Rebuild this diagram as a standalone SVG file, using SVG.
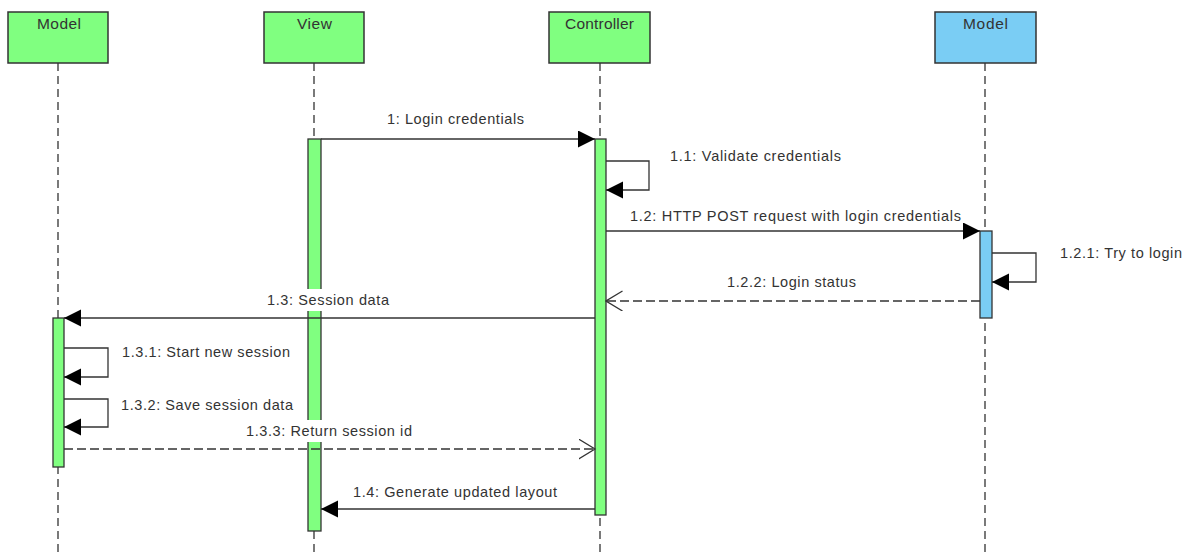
<svg xmlns="http://www.w3.org/2000/svg" width="1192" height="553" viewBox="0 0 1192 553">
<style>
.box{stroke:#333;stroke-width:1.5}
.g{fill:#80ff80}
.b{fill:#7acdf4}
.life{stroke:#333;stroke-width:1.3;stroke-dasharray:8 5;fill:none}
.act{stroke:#333;stroke-width:1.3}
.msg{stroke:#333;stroke-width:1.3;fill:none}
.ret{stroke:#333;stroke-width:1.4;fill:none;stroke-dasharray:9 4}
text{font-family:"Liberation Sans",Arial,sans-serif;font-size:14.5px;fill:#333}
.hd{font-size:15.5px}
.bg{fill:#fff}
</style>
<defs>
<marker id="fa" markerUnits="userSpaceOnUse" markerWidth="18" markerHeight="18" refX="17" refY="8.5" orient="auto" viewBox="0 0 18 18">
<path d="M0,0 L17,8.5 L0,17 z" fill="#000"/>
</marker>
<marker id="oa" markerUnits="userSpaceOnUse" markerWidth="18" markerHeight="22" refX="16.5" refY="10" orient="auto" viewBox="0 0 18 22">
<path d="M0,0 L16.5,10 L0,20" fill="none" stroke="#333" stroke-width="1.3"/>
</marker>
</defs>
<g id="lifelines">
<line class="life" x1="58" y1="63" x2="58" y2="553"/>
<line class="life" x1="314" y1="63" x2="314" y2="553"/>
<line class="life" x1="600" y1="63" x2="600" y2="553"/>
<line class="life" x1="985" y1="63" x2="985" y2="553"/>
</g>
<g id="model1">
<rect class="box g" x="8" y="12" width="100" height="51"/>
<text class="hd" x="37" y="29" textLength="44" lengthAdjust="spacing">Model</text>
</g>
<g id="view">
<rect class="box g" x="264" y="12" width="100" height="51"/>
<text class="hd" x="297" y="29" textLength="35" lengthAdjust="spacing">View</text>
</g>
<g id="controller">
<rect class="box g" x="549" y="12" width="101" height="51"/>
<text class="hd" x="565" y="29" textLength="69" lengthAdjust="spacing">Controller</text>
</g>
<g id="model2">
<rect class="box b" x="935" y="12" width="101" height="51"/>
<text class="hd" x="963" y="29" textLength="45" lengthAdjust="spacing">Model</text>
</g>
<g id="activations">
<rect id="act-view" class="act g" x="308" y="139" width="13" height="392"/>
<rect id="act-controller" class="act g" x="595" y="139" width="11" height="376"/>
<rect id="act-model2" class="act b" x="980" y="231" width="12" height="87"/>
<rect id="act-model1" class="act g" x="53" y="318" width="11" height="149"/>
</g>
<g id="connectors">
<line class="msg" x1="321" y1="139" x2="595" y2="139" marker-end="url(#fa)"/>
<polyline class="msg" points="606,161 649,161 649,190 606,190" marker-end="url(#fa)"/>
<line class="msg" x1="606" y1="231" x2="980" y2="231" marker-end="url(#fa)"/>
<polyline class="msg" points="992,253 1036,253 1036,282 992,282" marker-end="url(#fa)"/>
<line class="ret" x1="980" y1="301" x2="606" y2="301" marker-end="url(#oa)"/>
<line class="msg" x1="595" y1="318" x2="64" y2="318" marker-end="url(#fa)"/>
<polyline class="msg" points="64,348 108,348 108,377 64,377" marker-end="url(#fa)"/>
<polyline class="msg" points="64,399 108,399 108,427 64,427" marker-end="url(#fa)"/>
<line class="ret" x1="64" y1="449" x2="595" y2="449" marker-end="url(#oa)"/>
<line class="msg" x1="595" y1="509" x2="321" y2="509" marker-end="url(#fa)"/>
</g>
<g id="labels">
<text x="387" y="124" textLength="137" lengthAdjust="spacing">1: Login credentials</text>
<text x="670" y="161" textLength="171" lengthAdjust="spacing">1.1: Validate credentials</text>
<text x="630" y="221" textLength="331" lengthAdjust="spacing">1.2: HTTP POST request with login credentials</text>
<text x="1060" y="258" textLength="122" lengthAdjust="spacing">1.2.1: Try to login</text>
<text x="727" y="287" textLength="129" lengthAdjust="spacing">1.2.2: Login status</text>
<rect class="bg" x="264" y="289" width="127" height="22"/>
<text x="267" y="305" textLength="122" lengthAdjust="spacing">1.3: Session data</text>
<text x="122" y="357" textLength="168" lengthAdjust="spacing">1.3.1: Start new session</text>
<text x="121" y="410" textLength="172" lengthAdjust="spacing">1.3.2: Save session data</text>
<rect class="bg" x="243" y="420" width="172" height="22"/>
<text x="246" y="436" textLength="166" lengthAdjust="spacing">1.3.3: Return session id</text>
<text x="353" y="497" textLength="204" lengthAdjust="spacing">1.4: Generate updated layout</text>
</g>
</svg>
